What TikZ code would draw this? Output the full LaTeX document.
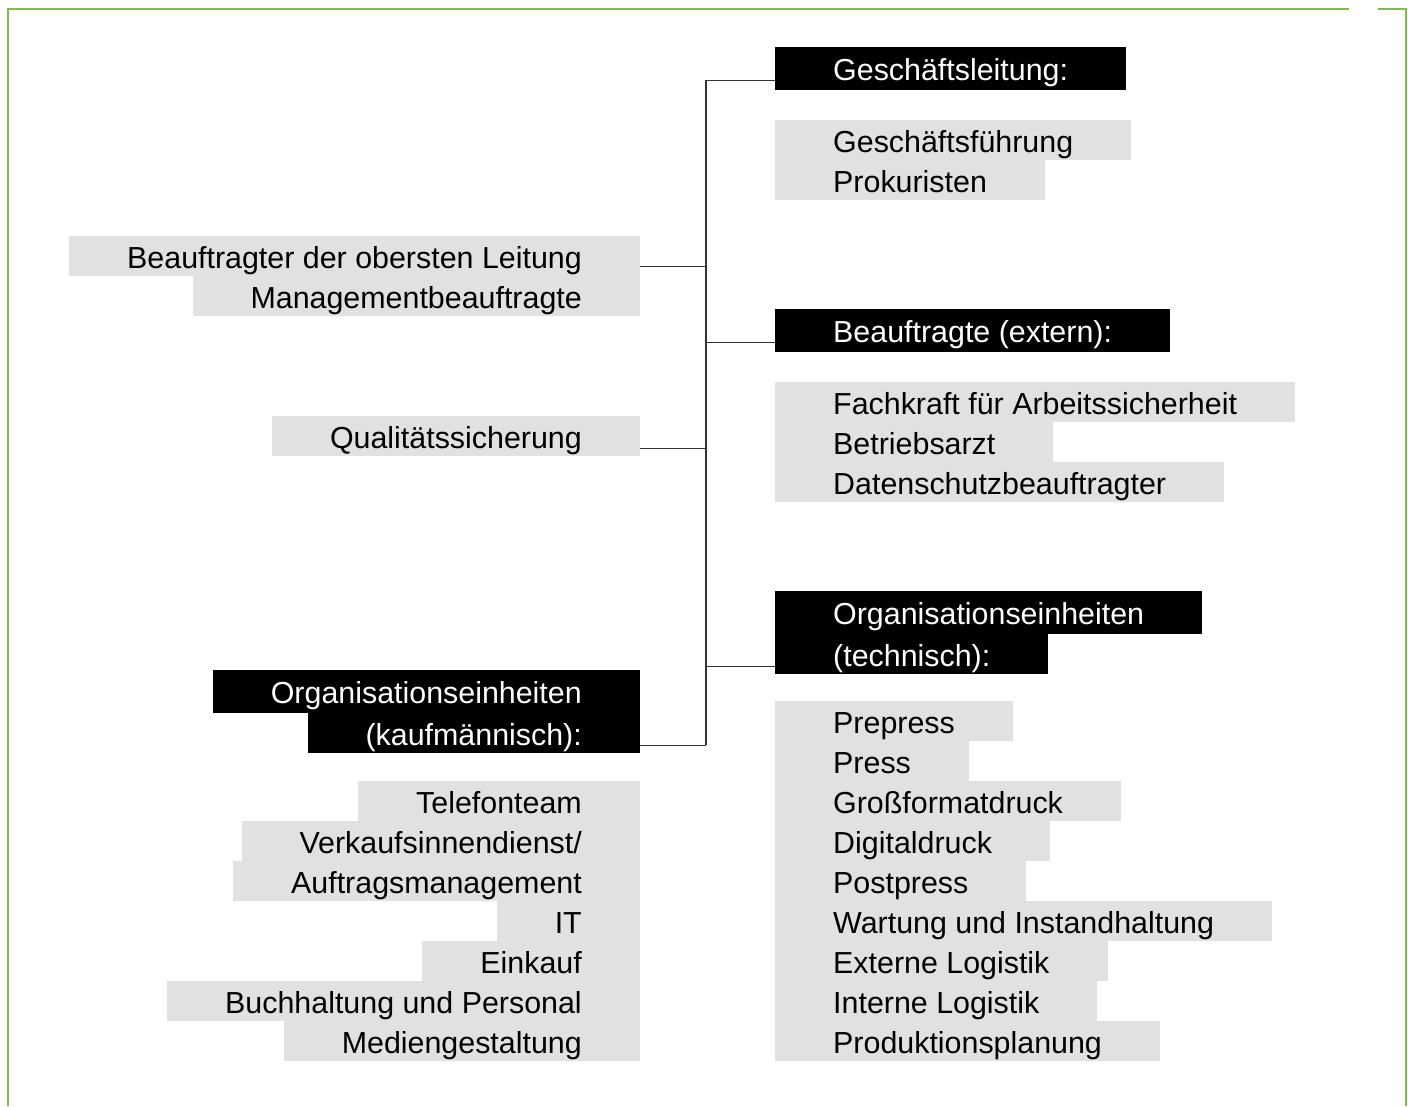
\documentclass[tikz,border=0pt]{standalone}
\usepackage{fontspec}
\setmainfont{Liberation Sans}
\definecolor{framegreen}{HTML}{7DBB4B}
\definecolor{rowgray}{HTML}{E1E1E1}
\definecolor{linegray}{HTML}{333333}
\newcommand{\orgfont}{\fontsize{30.4pt}{36pt}\selectfont}

\begin{document}
\begin{tikzpicture}[x=1pt, y=-1pt,
    row/.style={fill=rowgray, inner xsep=58pt, inner ysep=0pt, text height=32pt, text depth=8pt, font=\orgfont},
    headrow/.style={row, fill=black, text=white},
    headtop/.style={headrow, text height=33pt, text depth=10pt},
    branch/.style={linegray, line width=1.3pt}]
        \useasboundingbox (0,0) rectangle (1408,1106);

        \draw[framegreen, line width=2pt] (8,1106) -- (8,8.5) -- (1349,8.5);
        \draw[framegreen, line width=2pt] (1378,8.5) -- (1405.5,8.5) -- (1405.5,1106);

        % right side
        \node[headtop, anchor=north west] (gl) at (775,47) {Geschäftsleitung:};
        \foreach \t [count=\i] in {Geschäftsführung, Prokuristen}
            \node[row, anchor=north west] (gf\i) at (775,80+40*\i) {\t};

        \node[headtop, anchor=north west] (ext) at (775,309) {Beauftragte (extern):};
        \foreach \t [count=\i] in {Fachkraft für Arbeitssicherheit, Betriebsarzt, Datenschutzbeauftragter}
            \node[row, anchor=north west] (fk\i) at (775,342+40*\i) {\t};

        \node[headtop, anchor=north west] (techA) at (775,591) {Organisationseinheiten};
        \node[headrow, anchor=north west] (techB) at (775,634) {(technisch):};
        \foreach \t [count=\i] in {Prepress, Press, Großformatdruck, Digitaldruck, Postpress,
                Wartung und Instandhaltung, Externe Logistik, Interne Logistik, Produktionsplanung}
            \node[row, anchor=north west] (tech\i) at (775,661+40*\i) {\t};

        % left side
        \foreach \t [count=\i] in {Beauftragter der obersten Leitung, Managementbeauftragte}
            \node[row, anchor=north east] (bl\i) at (640,196+40*\i) {\t};
        \node[row, anchor=north east] (qs) at (640,416) {Qualitätssicherung};

        \node[headtop, anchor=north east] (kfmA) at (640,670) {Organisationseinheiten};
        \node[headrow, anchor=north east] (kfmB) at (640,713) {(kaufmännisch):};
        \foreach \t [count=\i] in {Telefonteam, Verkaufsinnendienst/, Auftragsmanagement, IT, Einkauf,
                Buchhaltung und Personal, Mediengestaltung}
            \node[row, anchor=north east] (kfm\i) at (640,741+40*\i) {\t};

        \coordinate (trunk) at (706,0);
        \draw[branch] (gl.base west -| trunk) -- (kfmB.base east -| trunk);
        \draw[branch] (gl.base west) -- (gl.base west -| trunk);
        \draw[branch] (ext.base west) -- (ext.base west -| trunk);
        \draw[branch] (techB.base west) -- (techB.base west -| trunk);
        \draw[branch] ([yshift=2pt]bl1.base east) -- ([yshift=2pt]bl1.base east -| trunk);
        \draw[branch] (qs.base east) -- (qs.base east -| trunk);
        \draw[branch] (kfmB.base east) -- (kfmB.base east -| trunk);
      \end{tikzpicture}
\end{document}
